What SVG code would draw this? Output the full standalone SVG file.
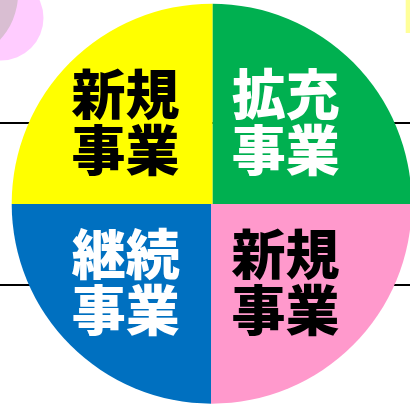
<svg xmlns="http://www.w3.org/2000/svg" width="410" height="405" viewBox="0 0 410 405">
<style>
.t{font-family:"Noto Sans CJK JP","Noto Sans CJK SC",sans-serif;font-size:54px;font-weight:900;text-anchor:middle}
.k{fill:#000000}
.w{fill:#FFFFFF}
.rule{stroke:#000000;stroke-width:2;fill:none}
</style>
<defs>
<clipPath id="circ"><circle cx="211.7" cy="203.7" r="200"/></clipPath>
<clipPath id="pinkc"><circle cx="1" cy="18" r="42.5"/></clipPath>
</defs>
<rect width="410" height="405" fill="#FFFFFF"/>
<g id="decor">
<circle cx="1" cy="18" r="42.5" fill="#FFCCFF"/>
<circle cx="-49" cy="-6" r="67" fill="#D9BED2" clip-path="url(#pinkc)"/>
<rect x="405.7" y="0" width="5" height="33" fill="#FFFF99"/>
</g>
<g id="connectors">
<line class="rule" x1="0" y1="123" x2="410" y2="123"/>
<line class="rule" x1="0" y1="285" x2="410" y2="285"/>
</g>
<g id="q-new-top" clip-path="url(#circ)">
<rect x="0" y="0" width="212.7" height="204" fill="#FFFF00"/>
</g>
<g id="q-expand" clip-path="url(#circ)">
<rect x="212.7" y="0" width="200" height="204" fill="#00B050"/>
</g>
<g id="q-continue" clip-path="url(#circ)">
<rect x="0" y="204" width="211" height="201" fill="#0070C0"/>
</g>
<g id="q-new-bottom" clip-path="url(#circ)">
<rect x="211" y="204" width="200" height="201" fill="#FF99CC"/>
</g>
<g id="label-new-top">
<text class="t k" x="125.5" y="115.4">新規</text>
<text class="t k" x="125.5" y="170.5">事業</text>
</g>
<g id="label-expand">
<text class="t w" x="285.8" y="115.4">拡充</text>
<text class="t w" x="285.8" y="170.5">事業</text>
</g>
<g id="label-continue">
<text class="t w" x="125.7" y="274.7">継続</text>
<text class="t w" x="125.7" y="331">事業</text>
</g>
<g id="label-new-bottom">
<text class="t k" x="285.5" y="274.7">新規</text>
<text class="t k" x="285.5" y="331">事業</text>
</g>
</svg>
